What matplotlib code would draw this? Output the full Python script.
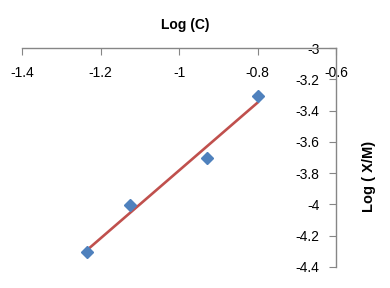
import numpy as np
import matplotlib
matplotlib.use("Agg")
import matplotlib.pyplot as plt

plt.rcParams['font.family'] = ['Liberation Sans', 'DejaVu Sans']

# data
log_c = [-1.234, -1.125, -0.928, -0.800]
log_xm = [-4.305, -4.005, -3.705, -3.307]
x_ticks = [-1.4, -1.2, -1.0, -0.8, -0.6]
x_labels = ["-1.4", "-1.2", "-1", "-0.8", "-0.6"]
y_ticks = [-3.0, -3.2, -3.4, -3.6, -3.8, -4.0, -4.2, -4.4]
y_labels = ["-3", "-3.2", "-3.4", "-3.6", "-3.8", "-4", "-4.2", "-4.4"]

fig = plt.figure(figsize=(3.9, 2.88), dpi=100)
ax = fig.add_axes([22/390, 1-267/288, (336-22)/390, (267-48)/288])

# linear trendline
k, b = np.polyfit(log_c, log_xm, 1)
xs = np.array([min(log_c), max(log_c)])
ax.plot(xs, k*xs + b, color='#C0504D', lw=1.9, zorder=2)
ax.plot(log_c, log_xm, 'D', color='#4F81BD', ms=6.5, mec='#4F81BD', zorder=3)

ax.set_xlim(-1.4, -0.6)
ax.set_ylim(-4.4, -3.0)

grey = '#868686'
for s in ['left', 'bottom']:
    ax.spines[s].set_visible(False)
for s in ['top', 'right']:
    ax.spines[s].set_color(grey)
    ax.spines[s].set_linewidth(1.0)

ax.xaxis.set_ticks_position('top')
ax.yaxis.set_ticks_position('right')
ax.set_xticks(x_ticks)
ax.set_xticklabels(x_labels)
ax.set_yticks(y_ticks)
ax.set_yticklabels(y_labels)
ax.tick_params(axis='x', direction='in', length=5, color=grey, labelsize=10,
               top=True, bottom=False, labeltop=True, labelbottom=False, pad=-13)
ax.tick_params(axis='y', direction='in', length=5, color=grey, labelsize=10,
               right=True, left=False, labelright=True, labelleft=False, pad=-12)
for t in ax.xaxis.get_major_ticks():
    t.label2.set_va('top')
for t in ax.yaxis.get_major_ticks():
    t.label2.set_ha('right')

fig.text(185/390, 1-25/288, "Log (C)", ha='center', va='center',
         fontsize=10, fontweight='bold')
fig.text(369/390, 1-176/288, "Log ( X/M)", ha='center', va='center',
         rotation=90, fontsize=10.5, fontweight='bold')

fig.savefig("out.png", dpi=100)
